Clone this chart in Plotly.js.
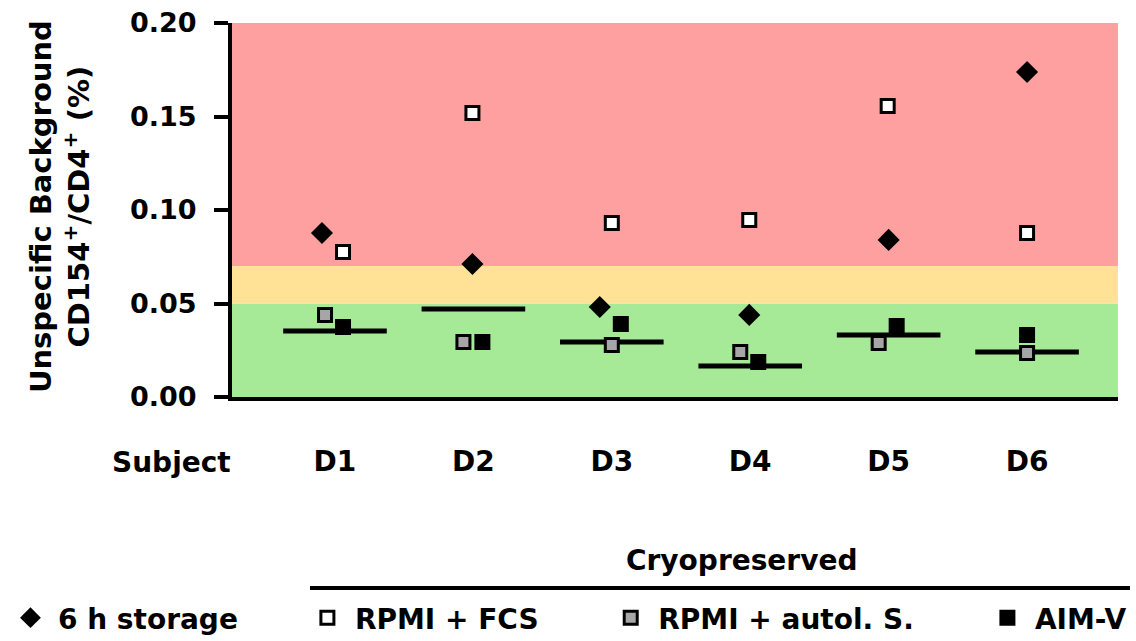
<!DOCTYPE html>
<html>
<head>
<meta charset="utf-8">
<script src="https://cdn.plot.ly/plotly-3.0.1.min.js"></script>
<style>html,body{margin:0;padding:0;background:#fff;}#chart{width:1136px;height:641px;}</style>
</head>
<body>
<div id="chart"></div>
<script>
// ---- data ----
const categories = ['D1', 'D2', 'D3', 'D4', 'D5', 'D6'];
const storage6h  = [0.0877, 0.0711, 0.0481, 0.0439, 0.0840, 0.1738];
const rpmiFcs    = [0.0775, 0.1519, 0.0930, 0.0947, 0.1556, 0.0877];
const rpmiAutolS = [0.0439, 0.0294, 0.0278, 0.0241, 0.0289, 0.0235];
const aimV       = [0.0374, 0.0294, 0.0390, 0.0187, 0.0380, 0.0332];
const medianLine = [0.0353, 0.0471, 0.0294, 0.0166, 0.0332, 0.0241];
const seriesNames = ['6 h storage', 'RPMI + FCS', 'RPMI + autol. S.', 'AIM-V'];
const bandLimits = [0, 0.05, 0.07, 0.20];
const yTicks = [0, 0.05, 0.10, 0.15, 0.20];
const yTickText = ['0.00', '0.05', '0.10', '0.15', '0.20'];

// horizontal jitter within a subject (category units), as in the original figure
const jitStorage = [-0.094, -0.007, -0.087, -0.007, 0, 0];
const jitFcs     = [0.058, -0.007, 0, -0.007, -0.007, 0];
const jitAutol   = [-0.072, -0.072, 0, -0.072, -0.072, 0];
const jitAimV    = [0.058, 0.065, 0.065, 0.058, 0.058, 0];

const pos = categories.map((c, i) => i + 1);
const shift = (j) => pos.map((p, i) => p + j[i]);

const FONT = {family: 'DejaVu Sans', size: 28, color: '#000', weight: 700};

const traces = [
  {x: pos, y: medianLine, type: 'scatter', mode: 'markers', showlegend: false, hoverinfo: 'skip',
   marker: {symbol: 'line-ew-open', size: 74, color: '#000', line: {width: 5, color: '#000'}}},
  {x: shift(jitAutol), y: rpmiAutolS, name: seriesNames[2], type: 'scatter', mode: 'markers', legend: 'legend3',
   marker: {symbol: 'square', size: 13, color: '#A6A6A6', line: {width: 3, color: '#000'}}},
  {x: shift(jitAimV), y: aimV, name: seriesNames[3], type: 'scatter', mode: 'markers', legend: 'legend4',
   marker: {symbol: 'square', size: 14, color: '#000', line: {width: 2, color: '#000'}}},
  {x: shift(jitFcs), y: rpmiFcs, name: seriesNames[1], type: 'scatter', mode: 'markers', legend: 'legend2',
   marker: {symbol: 'square', size: 13, color: '#fff', line: {width: 3, color: '#000'}}},
  {x: shift(jitStorage), y: storage6h, name: seriesNames[0], type: 'scatter', mode: 'markers', legend: 'legend',
   marker: {symbol: 'diamond', size: 17, color: '#000', line: {width: 0}}}
];

const bandColors = ['#A6E996', '#FFE295', '#FFA0A0'];
const shapes = bandColors.map((c, i) => ({
  type: 'rect', xref: 'paper', yref: 'y', x0: 0, x1: 1, y0: bandLimits[i], y1: bandLimits[i + 1],
  fillcolor: c, line: {width: 0}, layer: 'below'
}));
shapes.push({type: 'line', xref: 'paper', yref: 'paper', x0: 0.088, x1: 1.0135, y0: -0.511, y1: -0.511,
  line: {color: '#000', width: 4}});

const legendBase = {orientation: 'h', yanchor: 'middle', xanchor: 'left', xref: 'container', yref: 'container',
  y: 0.0359, bgcolor: 'rgba(0,0,0,0)', borderwidth: 0, font: FONT, itemwidth: 45,
  itemclick: false, itemdoubleclick: false};

const layout = {
  width: 1136, height: 641,
  margin: {l: 232, r: 18, t: 23, b: 244, autoexpand: false},
  paper_bgcolor: '#fff', plot_bgcolor: '#fff',
  font: FONT,
  xaxis: {range: [0.256, 6.657], tickvals: pos, ticktext: categories, ticks: '', showgrid: false, zeroline: false,
    showline: true, linecolor: '#000', linewidth: 4, tickfont: FONT, ticklabelstandoff: 36, fixedrange: true,
    automargin: false},
  yaxis: {range: [0, 0.2], tickvals: yTicks, ticktext: yTickText, ticks: 'outside', ticklen: 14, tickwidth: 4,
    tickcolor: '#000', showgrid: false, zeroline: false, showline: true, linecolor: '#000', linewidth: 4,
    tickfont: Object.assign({}, FONT, {size: 27}), ticklabelstandoff: 12, fixedrange: true, automargin: false},
  shapes: shapes,
  showlegend: true,
  legend: Object.assign({}, legendBase, {x: 0.0026}),
  legend2: Object.assign({}, legendBase, {x: 0.264}),
  legend3: Object.assign({}, legendBase, {x: 0.531}),
  legend4: Object.assign({}, legendBase, {x: 0.8626}),
  annotations: [
    {text: 'Unspecific Background<br>CD154<sup>+</sup>/CD4<sup>+</sup> (%)', textangle: -90, xref: 'paper', yref: 'paper',
     x: -0.194, y: 0.508, xanchor: 'center', yanchor: 'middle', showarrow: false,
     font: Object.assign({}, FONT, {size: 29})},
    {text: 'Subject', xref: 'paper', yref: 'paper', x: -0.0688, y: -0.174, xanchor: 'center', yanchor: 'middle',
     showarrow: false, font: FONT},
    {text: 'Cryopreserved', xref: 'paper', yref: 'paper', x: 0.5756, y: -0.436, xanchor: 'center', yanchor: 'middle',
     showarrow: false, font: FONT}
  ]
};

Plotly.newPlot('chart', traces, layout, {displayModeBar: false, staticPlot: true});
</script>
</body>
</html>
